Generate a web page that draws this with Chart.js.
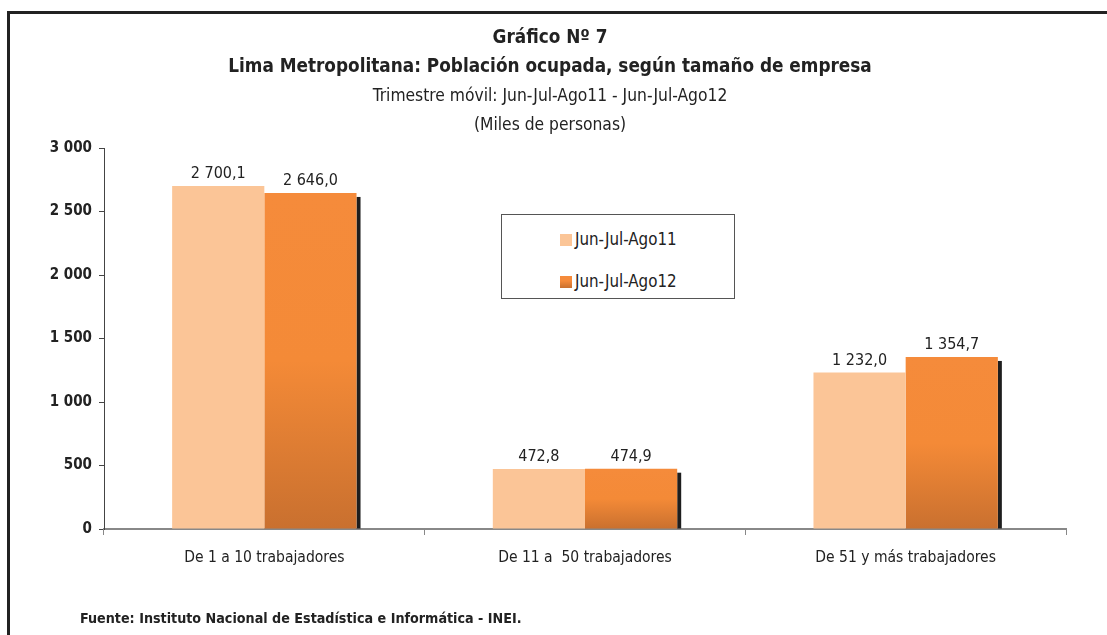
<!DOCTYPE html>
<html>
<head>
<meta charset="utf-8">
<script src="https://cdn.jsdelivr.net/npm/chart.js@4"></script>
<style>
    body { margin: 0; background: #fff; }
    #wrap { position: relative; width: 1107px; height: 635px; overflow: hidden; }
    #frame { position: absolute; left: 7px; top: 11px; right: -10px; bottom: -10px;
             border-left: 3px solid #222; border-top: 3px solid #222; }
    #chart { position: absolute; left: 0; top: 0; }
    #legend { position: absolute; left: 501px; top: 214px; width: 232px; height: 83px;
              border: 1px solid #555; background: #fff;
              font: 16.8px 'DejaVu Sans Condensed', sans-serif; color: #222; }
    #legend div { position: absolute; left: 58px; height: 20px; line-height: 20px; white-space: nowrap; }
    #legend span { display: inline-block; width: 12px; height: 12px; margin-right: 3px; vertical-align: -1px; }
    #source { position: absolute; left: 80px; top: 610px;
              font: bold 14.2px 'DejaVu Sans Condensed', sans-serif; color: #222; }
</style>
</head>
<body>
<div id="wrap">
    <div id="frame"></div>
    <canvas id="chart" width="1107" height="635"></canvas>
    <div id="legend"></div>
    <div id="source">Fuente: Instituto Nacional de Estadística e Informática - INEI.</div>
</div>
<script>
var categories = ['De 1 a 10 trabajadores', 'De 11 a  50 trabajadores', 'De 51 y más trabajadores'];
var series_names = ['Jun-Jul-Ago11', 'Jun-Jul-Ago12'];
var values_2011 = [2700.1, 472.8, 1232.0];
var values_2012 = [2646.0, 474.9, 1354.7];
var y_ticks = [0, 500, 1000, 1500, 2000, 2500, 3000];

var font_family = "'DejaVu Sans Condensed', sans-serif";
var light_color = '#fbc597',
    dark_color = '#f58b3b';

function formatNumber(v, decimals) {
    var parts = v.toFixed(decimals).split('.'),
        whole = parts[0].replace(/\B(?=(\d{3})+(?!\d))/g, ' ');
    return parts.length > 1 ? whole + ',' + parts[1] : whole;
}

// per-bar gradient, flat orange on top half then darker towards the axis
function darkGradient(context) {
    var chart = context.chart,
        y = chart.scales.y;
    if (!chart.chartArea || !y || context.raw === undefined) {
        return dark_color;
    }
    var top = y.getPixelForValue(context.raw),
        bottom = y.getPixelForValue(0),
        g = chart.ctx.createLinearGradient(0, top, 0, bottom);
    g.addColorStop(0, '#f58b3b');
    g.addColorStop(0.5, '#f48a37');
    g.addColorStop(1, '#c9702f');
    return g;
}

// dark shadow on the right side of the second series
var shadowPlugin = {
    id: 'barShadow',
    beforeDatasetsDraw: (chart) => {
        var ctx = chart.ctx,
            meta = chart.getDatasetMeta(1);
        ctx.save();
        ctx.fillStyle = '#1e1e1e';
        meta.data.forEach((bar) => {
            var right = bar.x + bar.width / 2;
            ctx.fillRect(right, bar.y + 4, 4, bar.base - bar.y - 4);
        });
        ctx.restore();
    }
};

var labelPlugin = {
    id: 'valueLabels',
    afterDatasetsDraw: (chart) => {
        var ctx = chart.ctx;
        ctx.save();
        ctx.font = '16px ' + font_family;
        ctx.fillStyle = '#222';
        ctx.textAlign = 'center';
        ctx.textBaseline = 'bottom';
        chart.data.datasets.forEach((ds, i) => {
            chart.getDatasetMeta(i).data.forEach((bar, j) => {
                ctx.fillText(formatNumber(ds.data[j], 1), bar.x, bar.y - 4);
            });
        });
        ctx.restore();
    }
};

var chart = new Chart(document.getElementById('chart'), {
    type: 'bar',
    data: {
        labels: categories,
        datasets: [{
            label: series_names[0],
            data: values_2011,
            backgroundColor: light_color,
            borderWidth: 0
        }, {
            label: series_names[1],
            data: values_2012,
            backgroundColor: darkGradient,
            borderWidth: 0
        }]
    },
    options: {
        responsive: false,
        animation: false,
        layout: { padding: { top: 24, left: 34, right: 41, bottom: 0 } },
        datasets: { bar: { barPercentage: 1, categoryPercentage: 0.575 } },
        plugins: {
            legend: { display: false },
            tooltip: { enabled: false },
            title: {
                display: true,
                text: ['Gráfico Nº 7', 'Lima Metropolitana: Población ocupada, según tamaño de empresa'],
                font: { family: font_family, size: 18.8, weight: 'bold', lineHeight: '29px' },
                color: '#222',
                padding: 0
            },
            subtitle: {
                display: true,
                text: ['Trimestre móvil: Jun-Jul-Ago11 - Jun-Jul-Ago12', '(Miles de personas)'],
                font: { family: font_family, size: 17.3, lineHeight: '29px' },
                color: '#222',
                padding: { top: 0, bottom: 8 }
            }
        },
        scales: {
            x: {
                grid: { offset: true, drawOnChartArea: false, tickLength: 6, color: '#888' },
                border: { color: '#888', width: 2 },
                ticks: { font: { family: font_family, size: 15.5 }, color: '#222', padding: 14 },
                afterFit: (scale) => { scale.height = 106; }
            },
            y: {
                min: 0,
                max: 3000,
                afterBuildTicks: (scale) => {
                    scale.ticks = y_ticks.map((v) => ({ value: v }));
                },
                grid: { drawOnChartArea: false, tickLength: 5, color: '#444' },
                border: { color: '#444' },
                ticks: {
                    font: { family: font_family, size: 15, weight: 'bold' },
                    color: '#222',
                    padding: 7,
                    callback: (v) => formatNumber(v, 0)
                },
                afterFit: (scale) => { scale.width = 70; }
            }
        }
    },
    plugins: [shadowPlugin, labelPlugin]
});

// html legend built from the datasets
var legend = document.getElementById('legend');
chart.data.datasets.forEach((ds, i) => {
    var item = document.createElement('div'),
        swatch = document.createElement('span');
    item.style.top = (i === 0 ? 14 : 56) + 'px';
    swatch.style.background = i === 0 ? light_color : 'linear-gradient(#f58b3b 40%, #c9702f)';
    item.appendChild(swatch);
    item.appendChild(document.createTextNode(ds.label));
    legend.appendChild(item);
});
</script>
</body>
</html>
